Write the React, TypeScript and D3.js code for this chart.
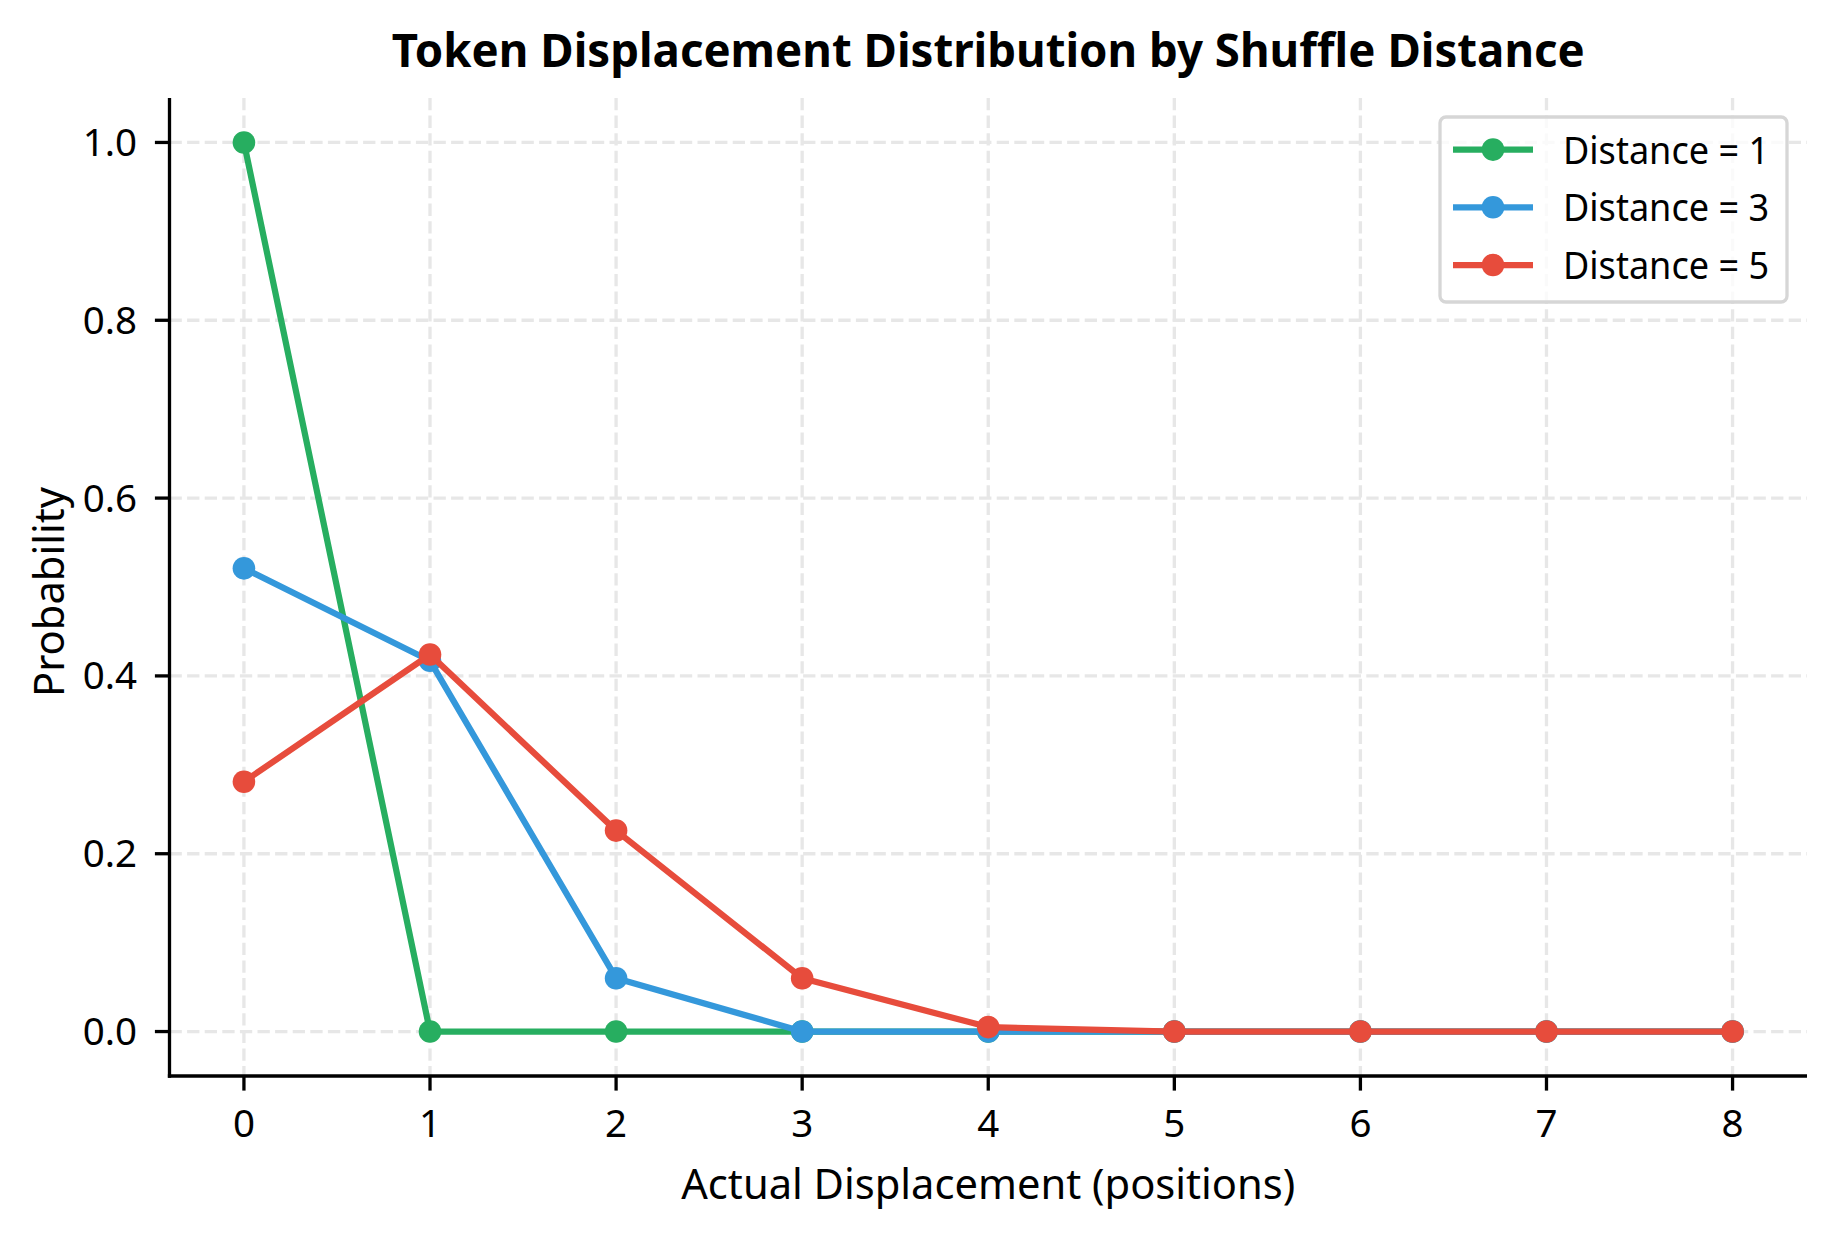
import * as d3 from 'd3'
import React from 'react'

// values
const displacement = [0, 1, 2, 3, 4, 5, 6, 7, 8]
const distance1 = [1.0, 0, 0, 0, 0, 0, 0, 0, 0]
const distance3 = [0.521, 0.417, 0.06, 0, 0, 0, 0, 0, 0]
const distance5 = [0.281, 0.424, 0.226, 0.06, 0.005, 0, 0, 0, 0]
const seriesLabels = ['Distance = 1', 'Distance = 3', 'Distance = 5']
const seriesColors = ['#27ae60', '#3498db', '#e74c3c']
const xTicks = [0, 1, 2, 3, 4, 5, 6, 7, 8]
const yTicks = [0, 0.2, 0.4, 0.6, 0.8, 1.0]

const
  W = 1834,
  H = 1234,
  plot = { left: 169.5, right: 1807, top: 98, bottom: 1076 },
  font = '"Noto Sans", "DejaVu Sans", sans-serif',
  lineW = 6.25,
  markerR = 11.3,
  gridColor = '#e7e7e7',
  tickFont = 38.5

export default function App() {
  const
    x = d3.scaleLinear().domain([-0.4, 8.4]).range([plot.left, plot.right]),
    y = d3.scaleLinear().domain([-0.05, 1.05]).range([plot.bottom, plot.top]),
    series = [distance1, distance3, distance5],
    line = d3.line<number>()
      .x((_, i) => x(displacement[i]))
      .y(d => y(d)),
    cx = (plot.left + plot.right) / 2,
    cy = (plot.top + plot.bottom) / 2,
    legend = { x: plot.right - 367, y: plot.top + 19, w: 347, h: 185 }

  return (
    <svg width={W} height={H} style={{ position: 'absolute', left: 0, top: 0, background: '#fff' }} fontFamily={font}>
      <rect width={W} height={H} fill='#fff' />

      {/* grid */}
      <g stroke={gridColor} strokeWidth={3.3} strokeDasharray='12.3 5.3'>
        {xTicks.map(t => <line key={'gx' + t} x1={x(t)} x2={x(t)} y1={plot.top} y2={plot.bottom} />)}
        {yTicks.map(t => <line key={'gy' + t} x1={plot.left} x2={plot.right} y1={y(t)} y2={y(t)} />)}
      </g>

      {/* series */}
      {series.map((vals, s) => (
        <g key={seriesLabels[s]}>
          <path d={line(vals) as string} fill='none' stroke={seriesColors[s]} strokeWidth={lineW} strokeLinejoin='round' />
          {vals.map((v, i) => <circle key={i} cx={x(displacement[i])} cy={y(v)} r={markerR} fill={seriesColors[s]} />)}
        </g>
      ))}

      {/* spines */}
      <g stroke='#000' strokeWidth={3.3}>
        <line x1={plot.left} x2={plot.left} y1={plot.top} y2={plot.bottom + 1.65} />
        <line x1={plot.left - 1.65} x2={plot.right} y1={plot.bottom} y2={plot.bottom} />
      </g>

      {/* x axis */}
      <g fontSize={tickFont} textAnchor='middle'>
        {xTicks.map(t => (
          <g key={'xt' + t}>
            <line x1={x(t)} x2={x(t)} y1={plot.bottom} y2={plot.bottom + 14.6} stroke='#000' strokeWidth={3.3} />
            <text x={x(t)} y={1137}>{t}</text>
          </g>
        ))}
      </g>
      <text x={cx} y={1199} fontSize={42.5} textAnchor='middle' textLength={614} lengthAdjust='spacingAndGlyphs'>
        Actual Displacement (positions)
      </text>

      {/* y axis */}
      <g fontSize={tickFont} textAnchor='end'>
        {yTicks.map(t => (
          <g key={'yt' + t}>
            <line x1={plot.left - 14.6} x2={plot.left} y1={y(t)} y2={y(t)} stroke='#000' strokeWidth={3.3} />
            <text x={137} y={y(t) + 13.5}>{d3.format('.1f')(t)}</text>
          </g>
        ))}
      </g>
      <text transform={`translate(64,${cy + 5}) rotate(-90)`} fontSize={42.5} textAnchor='middle' textLength={210} lengthAdjust='spacingAndGlyphs'>
        Probability
      </text>

      {/* title */}
      <text x={cx} y={67} fontSize={47} fontWeight='bold' textAnchor='middle' textLength={1193} lengthAdjust='spacingAndGlyphs'>
        Token Displacement Distribution by Shuffle Distance
      </text>

      {/* legend */}
      <g transform={`translate(${legend.x},${legend.y})`}>
        <rect x={0} y={0} width={legend.w} height={legend.h} rx={6} fill='#fff' fillOpacity={0.8} stroke='#d6d6d6' strokeWidth={3.3} />
        {seriesLabels.map((label, s) => {
          const ry = 32.6 + s * 57.7
          return (
            <g key={label}>
              <line x1={13} x2={93} y1={ry} y2={ry} stroke={seriesColors[s]} strokeWidth={lineW} />
              <circle cx={53} cy={ry} r={markerR} fill={seriesColors[s]} />
              <text x={123} y={ry + 14} fontSize={38.5} textLength={206} lengthAdjust='spacingAndGlyphs'>{label}</text>
            </g>
          )
        })}
      </g>
    </svg>
  )
}
